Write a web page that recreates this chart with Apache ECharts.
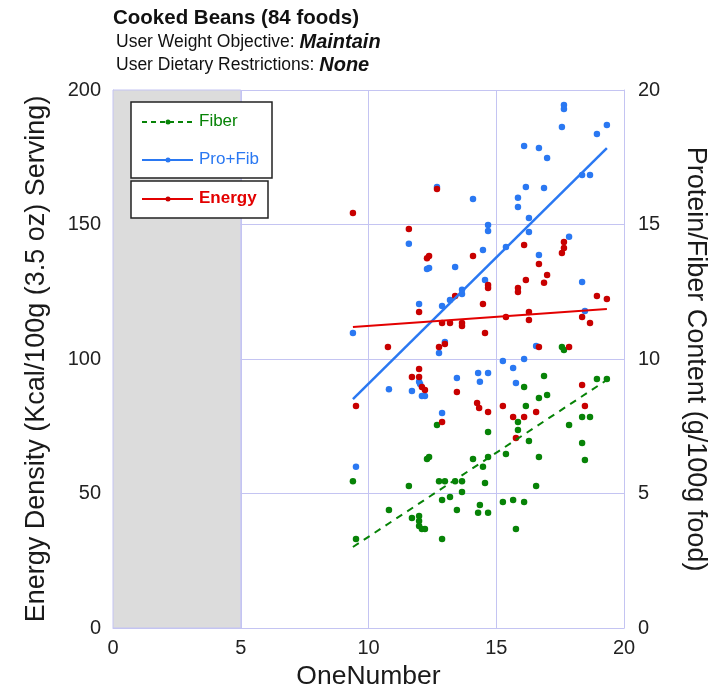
<!DOCTYPE html>
<html>
<head>
<meta charset="utf-8">
<script src="https://cdn.jsdelivr.net/npm/echarts@6/dist/echarts.min.js"></script>
<style>
  html, body { margin: 0; padding: 0; background: #fff; }
  #chart { width: 717px; height: 688px; }
</style>
</head>
<body>
<div id="chart"></div>
<script>
// OneNumber score vs energy density (left axis) for each food
const energyPoints = [
  [9.39,154.3],[9.51,82.5],[10.76,104.5],[11.58,148.3],[11.70,93.3],[11.98,117.5],[11.98,96.3],
  [11.98,93.3],[12.09,89.6],[12.21,88.5],[12.29,137.5],[12.37,138.3],[12.68,163.2],[12.76,104.5],
  [12.88,113.4],[12.88,76.6],[12.99,105.6],[13.19,113.4],[13.39,123.4],[13.46,87.7],[13.66,113.4],
  [13.66,112.3],[14.09,138.3],[14.25,83.6],[14.33,81.8],[14.48,120.4],[14.56,109.7],[14.68,127.5],
  [14.68,126.4],[14.68,80.3],[15.26,82.5],[15.38,115.6],[15.66,78.4],[15.77,70.6],[15.85,126.4],
  [15.85,124.9],[16.09,142.4],[16.09,78.4],[16.16,129.4],[16.28,117.5],[16.28,114.5],[16.56,80.3],
  [16.67,135.3],[16.67,104.5],[16.87,128.3],[16.99,131.2],[17.57,139.4],[17.65,143.5],[17.65,141.3],
  [17.85,104.5],[18.36,115.6],[18.36,90.3],[18.47,82.5],[18.67,113.4],[18.94,123.4],[19.33,122.3]
];

// OneNumber score vs protein + fiber (right axis, g/100g)
const proFibPoints = [
  [9.39,10.97],[9.51,5.99],[10.80,8.88],[11.58,14.28],[11.70,8.81],[11.98,12.04],[11.98,9.15],
  [12.02,9.07],[12.09,8.62],[12.21,8.62],[12.29,13.35],[12.37,13.38],[12.68,16.39],[12.76,10.22],
  [12.88,11.97],[12.88,7.99],[12.99,10.63],[13.19,12.19],[13.39,13.42],[13.46,9.29],[13.66,12.57],
  [13.66,12.42],[14.09,15.95],[14.29,9.48],[14.36,9.15],[14.48,14.05],[14.56,12.94],[14.68,14.98],
  [14.68,14.76],[14.68,9.48],[15.26,9.93],[15.38,14.16],[15.66,9.67],[15.77,9.11],[15.85,15.99],
  [15.85,15.65],[16.09,17.92],[16.09,10.0],[16.16,16.39],[16.28,15.24],[16.28,14.72],[16.56,10.48],
  [16.67,17.84],[16.67,13.87],[16.87,16.36],[16.99,17.47],[17.57,18.62],[17.65,19.44],[17.65,19.29],
  [17.85,14.54],[18.36,16.84],[18.36,12.86],[18.47,11.78],[18.67,16.84],[18.94,18.36],[19.33,18.70]
];

// OneNumber score vs fiber (right axis, g/100g)
const fiberPoints = [
  [9.39,5.46],[9.51,3.31],[10.80,4.39],[11.58,5.28],[11.70,4.09],[11.98,4.16],[11.98,3.98],
  [11.98,3.79],[12.09,3.68],[12.21,3.68],[12.29,6.28],[12.37,6.36],[12.68,7.55],[12.76,5.46],
  [12.88,3.31],[12.88,4.76],[12.99,5.46],[13.19,4.87],[13.39,5.46],[13.46,4.39],[13.66,5.46],
  [13.66,5.06],[14.09,6.28],[14.29,4.28],[14.36,4.57],[14.48,5.99],[14.56,5.39],[14.68,7.29],
  [14.68,6.36],[14.68,4.28],[15.26,4.68],[15.38,6.47],[15.66,4.76],[15.77,3.68],[15.85,7.66],
  [15.85,7.36],[16.09,8.96],[16.09,4.68],[16.16,8.25],[16.28,6.95],[16.56,5.28],[16.67,8.55],
  [16.67,6.36],[16.87,9.37],[16.99,8.66],[17.57,10.45],[17.65,10.33],[17.85,7.55],[18.36,7.84],
  [18.36,6.88],[18.47,6.25],[18.67,7.84],[18.94,9.26],[19.33,9.26]
];

// Linear trend endpoints for each series
const energyTrend = [[9.39,111.9],[19.33,118.6]];
const proFibTrend = [[9.39,8.51],[19.33,17.84]];
const fiberTrend  = [[9.39,3.01],[19.33,9.22]];

// Axis ranges / ticks
const xTicks = [0, 5, 10, 15, 20];
const energyTicks = [0, 50, 100, 150, 200];
const contentTicks = [0, 5, 10, 15, 20];
const excludedRange = [0, 5];

const GREEN = '#078307';
const BLUE = '#2a78f2';
const RED_DOT = '#c80000';
const RED = '#e30000';
const GRID = '#c4c4f2';
const FONT = '"Liberation Sans", Arial, sans-serif';

const chart = echarts.init(document.getElementById('chart'), null, { renderer: 'canvas' });

const L = 113, R = 624, T = 90, B = 628;

chart.setOption({
  animation: false,
  backgroundColor: '#fff',
  textStyle: { fontFamily: FONT },
  grid: { left: L, right: 717 - R, top: T, bottom: 688 - B, show: false, containLabel: false, outerBoundsMode: 'none' },
  xAxis: {
    type: 'value', min: xTicks[0], max: xTicks[xTicks.length - 1], interval: 5,
    name: 'OneNumber', nameLocation: 'middle', nameGap: 34,
    nameTextStyle: { fontSize: 26.5, color: '#1a1a1a', fontFamily: FONT },
    axisLine: { show: true, lineStyle: { color: GRID } },
    axisTick: { show: false },
    axisLabel: { fontSize: 20, color: '#222', margin: 10, fontFamily: FONT },
    splitLine: { show: true, lineStyle: { color: GRID, width: 1 } }
  },
  yAxis: [
    {
      type: 'value', min: energyTicks[0], max: energyTicks[energyTicks.length - 1], interval: 50,
      name: 'Energy Density (Kcal/100g (3.5 oz) Serving)', nameLocation: 'middle', nameGap: 63,
      nameTextStyle: { fontSize: 27, color: '#1a1a1a', fontFamily: FONT },
      axisLine: { show: true, lineStyle: { color: GRID } },
      axisTick: { show: false },
      axisLabel: { fontSize: 20, color: '#222', margin: 12, fontFamily: FONT },
      splitLine: { show: true, lineStyle: { color: GRID, width: 1 } }
    },
    {
      type: 'value', min: contentTicks[0], max: contentTicks[contentTicks.length - 1], interval: 5,
      name: 'Protein/Fiber Content (g/100g food)', nameLocation: 'middle', nameGap: 58, nameRotate: -90,
      nameTextStyle: { fontSize: 27, color: '#1a1a1a', fontFamily: FONT },
      position: 'right',
      axisLine: { show: true, lineStyle: { color: GRID } },
      axisTick: { show: false },
      axisLabel: { fontSize: 20, color: '#222', margin: 14, fontFamily: FONT },
      splitLine: { show: false }
    }
  ],
  series: [
    {
      name: 'Fiber', type: 'scatter', yAxisIndex: 1, data: fiberPoints,
      symbolSize: 6.5, itemStyle: { color: GREEN, opacity: 1 }, z: 3,
      markArea: {
        silent: true,
        itemStyle: { color: '#dcdcdc', borderColor: GRID, borderWidth: 1, opacity: 1 },
        data: [[{ xAxis: excludedRange[0] }, { xAxis: excludedRange[1] }]]
      }
    },
    {
      name: 'Pro+Fib', type: 'scatter', yAxisIndex: 1, data: proFibPoints,
      symbolSize: 6.5, itemStyle: { color: BLUE, opacity: 1 }, z: 3
    },
    {
      name: 'Energy', type: 'scatter', yAxisIndex: 0, data: energyPoints,
      symbolSize: 6.5, itemStyle: { color: RED_DOT, opacity: 1 }, z: 3
    },
    {
      name: 'Fiber trend', type: 'line', yAxisIndex: 1, data: fiberTrend, showSymbol: false,
      lineStyle: { color: GREEN, width: 2, type: [7, 6] }, z: 4
    },
    {
      name: 'Pro+Fib trend', type: 'line', yAxisIndex: 1, data: proFibTrend, showSymbol: false,
      lineStyle: { color: BLUE, width: 2.5 }, z: 4
    },
    {
      name: 'Energy trend', type: 'line', yAxisIndex: 0, data: energyTrend, showSymbol: false,
      lineStyle: { color: RED, width: 2 }, z: 4
    }
  ],
  graphic: [
    // headings
    { type: 'text', left: 113, top: 8, style: { text: 'Cooked Beans (84 foods)', font: 'bold 20.5px ' + FONT, fill: '#111' } },
    { type: 'text', left: 116, top: 32, style: {
        text: '{n|User Weight Objective: }{b|Maintain}',
        rich: { n: { font: '17.5px ' + FONT, fill: '#111' }, b: { font: 'italic bold 20px ' + FONT, fill: '#111' } } } },
    { type: 'text', left: 116, top: 55, style: {
        text: '{n|User Dietary Restrictions: }{b|None}',
        rich: { n: { font: '17.5px ' + FONT, fill: '#111' }, b: { font: 'italic bold 20px ' + FONT, fill: '#111' } } } },

    // legend box for fiber and pro+fib
    { type: 'rect', shape: { x: 131, y: 102, width: 141, height: 76 }, style: { fill: '#fff', stroke: '#222', lineWidth: 1.5 }, z: 10 },
    { type: 'line', shape: { x1: 142, y1: 122, x2: 193, y2: 122 }, style: { stroke: GREEN, lineWidth: 2, lineDash: [5, 4] }, z: 11 },
    { type: 'circle', shape: { cx: 168, cy: 122, r: 2.5 }, style: { fill: GREEN }, z: 11 },
    { type: 'text', left: 199, top: 113, style: { text: 'Fiber', font: '17px ' + FONT, fill: GREEN }, z: 11 },
    { type: 'line', shape: { x1: 142, y1: 160, x2: 193, y2: 160 }, style: { stroke: BLUE, lineWidth: 2 }, z: 11 },
    { type: 'circle', shape: { cx: 168, cy: 160, r: 2.5 }, style: { fill: BLUE }, z: 11 },
    { type: 'text', left: 199, top: 151, style: { text: 'Pro+Fib', font: '17px ' + FONT, fill: BLUE }, z: 11 },

    // legend box for energy
    { type: 'rect', shape: { x: 131, y: 181, width: 137, height: 37 }, style: { fill: '#fff', stroke: '#222', lineWidth: 1.5 }, z: 10 },
    { type: 'line', shape: { x1: 142, y1: 199, x2: 193, y2: 199 }, style: { stroke: RED, lineWidth: 2 }, z: 11 },
    { type: 'circle', shape: { cx: 168, cy: 199, r: 2.5 }, style: { fill: RED_DOT }, z: 11 },
    { type: 'text', left: 199, top: 190, style: { text: 'Energy', font: 'bold 17px ' + FONT, fill: RED }, z: 11 }
  ]
});
</script>
</body>
</html>
